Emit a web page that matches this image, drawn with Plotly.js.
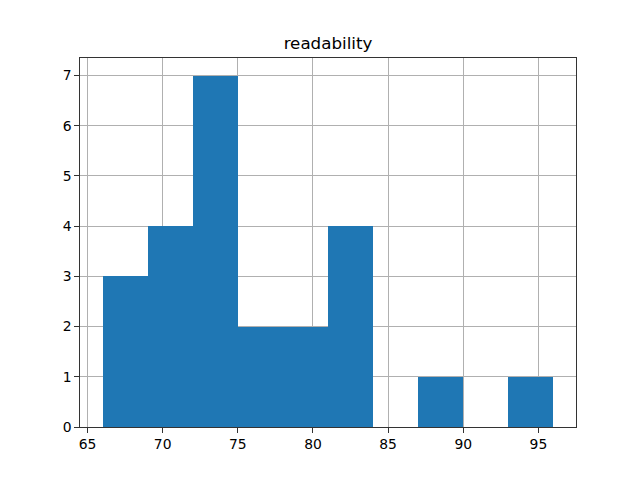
<!DOCTYPE html>
<html>
<head>
<meta charset="utf-8">
<script src="https://cdn.plot.ly/plotly-3.0.1.min.js"></script>
<style>html,body{margin:0;padding:0;background:#fff}#chart{width:640px;height:480px}</style>
</head>
<body>
<div id="chart"></div>
<script>
// Histogram of "readability": bins of width 3 from 66 to 96
const binLeftEdges = [66, 69, 72, 75, 78, 81, 84, 87, 90, 93];
const binWidth = 3;
const counts = [3, 4, 7, 2, 2, 4, 0, 1, 0, 1];
const chartTitle = "readability";
const xTicks = [65, 70, 75, 80, 85, 90, 95];
const yTicks = [0, 1, 2, 3, 4, 5, 6, 7];

const centers = binLeftEdges.map(e => e + binWidth / 2);
const font = {family: "DejaVu Sans", size: 13.9, color: "#000"};

const axisCommon = {
  showgrid: true, gridcolor: "#b0b0b0", gridwidth: 1,
  showline: true, linecolor: "#000", linewidth: 0.8, mirror: true,
  ticks: "outside", ticklen: 4.9, tickwidth: 0.8, tickcolor: "#000",
  zeroline: false, layer: "above traces", tickfont: font
};

Plotly.newPlot("chart", [{
  type: "bar", x: centers, y: counts, width: binWidth,
  marker: {color: "#1f77b4", line: {width: 0}},
  hoverinfo: "x+y"
}], {
  width: 640, height: 480,
  margin: {l: 80, r: 64, t: 58, b: 53, pad: 0},
  paper_bgcolor: "#fff", plot_bgcolor: "#fff",
  showlegend: false, bargap: 0,
  title: {text: chartTitle, font: {family: "DejaVu Sans", size: 16.7, color: "#000"},
          x: 0.5, xref: "paper", y: 1, yref: "paper", yanchor: "bottom", pad: {b: 9}},
  xaxis: Object.assign({}, axisCommon, {range: [64.5, 97.5], tickvals: xTicks, ticktext: xTicks.map(String)}),
  yaxis: Object.assign({}, axisCommon, {range: [0, 7.35], tickvals: yTicks, ticktext: yTicks.map(String)})
}, {displayModeBar: false, staticPlot: true});
</script>
</body>
</html>
